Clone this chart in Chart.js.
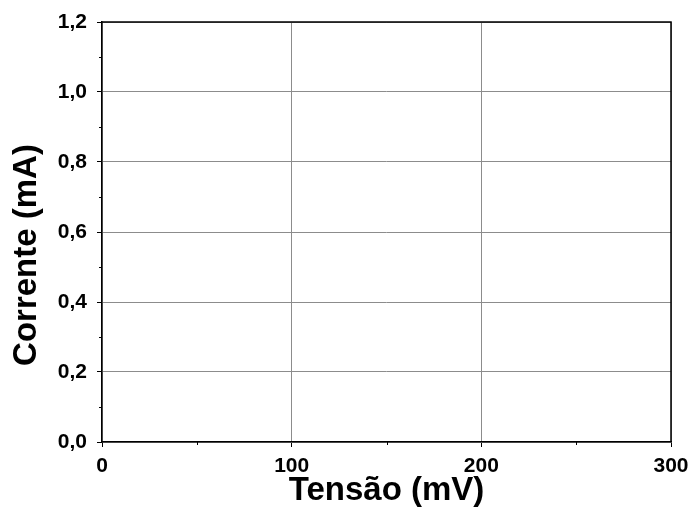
<!DOCTYPE html>
<html>
<head>
<meta charset="utf-8">
<script src="https://cdn.jsdelivr.net/npm/chart.js@4/dist/chart.umd.min.js"></script>
<style>
html,body{margin:0;padding:0;background:#fff;}
canvas{display:block;}
</style>
</head>
<body>
<canvas id="c" width="693" height="529"></canvas>
<script>
// Data (the reference chart contains no plotted series)
const tensao = [];      // mV
const corrente = [];    // mA
const xTickValues = [0, 100, 200, 300];
const xTickLabels = ['0', '100', '200', '300'];
const yTickValues = [0, 0.2, 0.4, 0.6, 0.8, 1.0, 1.2];
const yTickLabels = ['0,0', '0,2', '0,4', '0,6', '0,8', '1,0', '1,2'];
const xMinorTicks = [50, 150, 250];
const yMinorTicks = [0.1, 0.3, 0.5, 0.7, 0.9, 1.1];
const xTitle = 'Tensão (mV)';
const yTitle = 'Corrente (mA)';

const points = tensao.map((v, i) => ({x: v, y: corrente[i]}));
const FONT = "'Liberation Sans', Arial, sans-serif";

const framePlugin = {
  id: 'frame',
  afterDraw(chart) {
    const {ctx, chartArea: a, scales} = chart;
    ctx.save();
    ctx.strokeStyle = '#000';
    ctx.lineWidth = 1.5;
    // top and right frame lines
    ctx.beginPath();
    ctx.moveTo(a.left, a.top);
    ctx.lineTo(a.right, a.top);
    ctx.lineTo(a.right, a.bottom);
    ctx.stroke();
    // minor ticks (outward)
    ctx.lineWidth = 1;
    ctx.beginPath();
    xMinorTicks.forEach(v => {
      const px = Math.round(scales.x.getPixelForValue(v)) + 0.5;
      ctx.moveTo(px, a.bottom);
      ctx.lineTo(px, a.bottom + 3);
    });
    yMinorTicks.forEach(v => {
      const py = Math.round(scales.y.getPixelForValue(v)) + 0.5;
      ctx.moveTo(a.left, py);
      ctx.lineTo(a.left - 3, py);
    });
    ctx.stroke();
    // y axis title (placed slightly below the axis centre, as in the reference)
    ctx.fillStyle = '#000';
    ctx.font = "bold 33px " + FONT;
    ctx.textAlign = 'center';
    ctx.textBaseline = 'middle';
    ctx.translate(27, (a.top + a.bottom) / 2 + 23);
    ctx.rotate(-Math.PI / 2);
    ctx.fillText(yTitle, 0, 0);
    ctx.restore();
  }
};

new Chart(document.getElementById('c'), {
  type: 'scatter',
  data: { datasets: [{ data: points, showLine: false, pointRadius: 0 }] },
  options: {
    responsive: false,
    devicePixelRatio: 1,
    animation: false,
    layout: { padding: { left: 0, right: 22, top: 22, bottom: 0 } },
    plugins: { legend: { display: false }, tooltip: { enabled: false } },
    scales: {
      x: {
        type: 'linear',
        min: 0, max: 300,
        afterFit(s) { s.height = 87; s.paddingLeft = 0; s.paddingRight = 0; },
        afterBuildTicks(s) { s.ticks = xTickValues.map(v => ({value: v})); },
        ticks: {
          color: '#000',
          padding: 7,
          maxRotation: 0,
          font: { family: FONT, size: 21, weight: 'bold' },
          callback: (v, i) => xTickLabels[i]
        },
        grid: { color: '#8c8c8c', lineWidth: 1, tickColor: '#000', tickLength: 5, drawTicks: true },
        border: { color: '#000', width: 1.5 },
        title: {
          display: true, text: xTitle, color: '#000',
          font: { family: FONT, size: 33, weight: 'bold' },
          padding: { top: 0, bottom: 18 }
        }
      },
      y: {
        type: 'linear',
        min: 0, max: 1.2,
        afterFit(s) { s.width = 102; s.paddingTop = 0; s.paddingBottom = 0; },
        afterBuildTicks(s) { s.ticks = yTickValues.map(v => ({value: v})); },
        ticks: {
          color: '#000',
          padding: 10,
          font: { family: FONT, size: 21, weight: 'bold' },
          callback: (v, i) => yTickLabels[i]
        },
        grid: { color: '#8c8c8c', lineWidth: 1, tickColor: '#000', tickLength: 5, drawTicks: true },
        border: { color: '#000', width: 1.5 },
        title: { display: false }
      }
    }
  },
  plugins: [framePlugin]
});
</script>
</body>
</html>
